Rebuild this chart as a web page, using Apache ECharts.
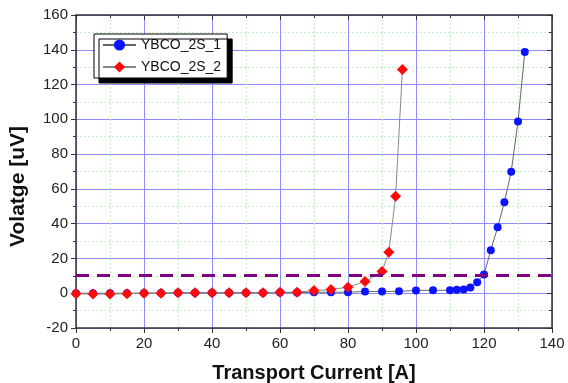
<!DOCTYPE html>
<html>
<head>
<meta charset="utf-8">
<script src="https://cdn.jsdelivr.net/npm/echarts@6/dist/echarts.min.js"></script>
<style>
  html, body { margin: 0; padding: 0; background: #fff; }
  #chart { width: 568px; height: 383px; }
</style>
</head>
<body>
<div id="chart"></div>
<script>
// YBCO_2S_1 (blue circles)
const current1 = [0, 5, 10, 15, 20, 25, 30, 35, 40, 45, 50, 55, 60, 65, 70, 75, 80, 85, 90, 95, 100, 105, 110, 112, 114, 116, 118, 120, 122, 124, 126, 128, 130, 132]
const voltage1 = [0, 0, 0, 0, 0.1, 0.1, 0.2, 0.2, 0.2, 0.3, 0.3, 0.3, 0.4, 0.4, 0.5, 0.6, 0.6, 1.0, 1.0, 1.1, 1.6, 1.7, 1.7, 2.0, 2.1, 3.3, 6.3, 10.7, 24.7, 37.9, 52.3, 69.8, 98.7, 138.7]

// YBCO_2S_2 (red diamonds)
const current2 = [0, 5, 10, 15, 20, 25, 30, 35, 40, 45, 50, 55, 60, 65, 70, 75, 80, 85, 90, 92, 94, 96]
const voltage2 = [-0.3, -0.5, -0.5, -0.3, 0, 0, 0.3, 0.3, 0.3, 0.3, 0.3, 0.3, 0.5, 0.6, 1.5, 2.1, 3.5, 6.7, 12.5, 23.6, 55.7, 128.6]

const criterionVoltage = 10.5

const xTicks = [0, 20, 40, 60, 80, 100, 120, 140]
const yTicks = [-20, 0, 20, 40, 60, 80, 100, 120, 140, 160]

const zip = (xs, ys) => xs.map((x, i) => [x, ys[i]])

const majorLine = { color: '#8c8cff', width: 1 }
const minorLine = { color: '#c4f0c4', width: 1, type: [2, 2] }
const frameColor = '#333'
const fontFamily = 'Liberation Sans, Arial, sans-serif'

// top and right sides of the frame, ticks pointing inward
const frameAxis = extra => Object.assign({
  type: 'value',
  interval: 20,
  axisLine: { show: true, onZero: false, lineStyle: { color: frameColor, width: 1.5 } },
  axisTick: { show: true, inside: true, length: 5, lineStyle: { color: frameColor } },
  minorTick: { show: true, splitNumber: 2, length: 3, lineStyle: { color: frameColor } },
  axisLabel: { show: false },
  splitLine: { show: false },
  minorSplitLine: { show: false }
}, extra)

const chart = echarts.init(document.getElementById('chart'))

chart.setOption({
  animation: false,
  grid: { left: 76, right: 16, top: 15, bottom: 55, outerBoundsMode: 'none' },
  legend: {
    orient: 'vertical',
    left: 94,
    top: 34,
    padding: [4, 6, 4, 8],
    itemGap: 8,
    itemWidth: 33,
    itemHeight: 14,
    backgroundColor: '#fff',
    borderColor: '#000',
    borderWidth: 1,
    shadowColor: '#000',
    shadowBlur: 0.1,
    shadowOffsetX: 5,
    shadowOffsetY: 5,
    textStyle: { fontFamily, fontSize: 14, color: '#111' },
    data: ['YBCO_2S_1', 'YBCO_2S_2']
  },
  xAxis: [
    {
      type: 'value',
      min: 0,
      max: 140,
      interval: 20,
      name: 'Transport Current [A]',
      nameLocation: 'middle',
      nameGap: 35,
      nameTextStyle: { fontFamily, fontSize: 20, fontWeight: 'bold', color: '#111' },
      axisLine: { onZero: false, lineStyle: { color: frameColor, width: 1.5 } },
      axisTick: { inside: false, length: 5, lineStyle: { color: frameColor } },
      minorTick: { show: true, splitNumber: 2, length: 3, lineStyle: { color: frameColor } },
      axisLabel: {
        fontFamily, fontSize: 15, color: '#222', margin: 8,
        formatter: v => (xTicks.includes(v) ? String(v) : '')
      },
      splitLine: { show: true, lineStyle: majorLine },
      minorSplitLine: { show: true, lineStyle: minorLine }
    },
    frameAxis({ position: 'top', min: 0, max: 140 })
  ],
  yAxis: [
    {
      type: 'value',
      min: -20,
      max: 160,
      interval: 20,
      name: 'Volatge [uV]',
      nameLocation: 'middle',
      nameGap: 47,
      nameTextStyle: { fontFamily, fontSize: 21, fontWeight: 'bold', color: '#111', padding: [0, 30, 0, 0] },
      axisLine: { show: true, onZero: false, lineStyle: { color: frameColor, width: 1.5 } },
      axisTick: { show: true, inside: false, length: 5, lineStyle: { color: frameColor } },
      minorTick: { show: true, splitNumber: 2, length: 3, lineStyle: { color: frameColor } },
      axisLabel: {
        fontFamily, fontSize: 15, color: '#222', margin: 8,
        formatter: v => (yTicks.includes(v) ? String(v) : '')
      },
      splitLine: { show: true, lineStyle: majorLine },
      minorSplitLine: { show: true, lineStyle: minorLine }
    },
    frameAxis({ position: 'right', min: -20, max: 160 })
  ],
  series: [
    {
      name: 'YBCO_2S_1',
      type: 'line',
      data: zip(current1, voltage1),
      symbol: 'circle',
      symbolSize: 8,
      itemStyle: { color: '#0a14ff' },
      lineStyle: { color: '#666', width: 1 },
      z: 3,
      markLine: {
        silent: true,
        symbol: 'none',
        label: { show: false },
        lineStyle: { color: '#800080', width: 3, type: [13, 8] },
        data: [{ yAxis: criterionVoltage }]
      }
    },
    {
      name: 'YBCO_2S_2',
      type: 'line',
      data: zip(current2, voltage2),
      symbol: 'diamond',
      symbolSize: 11,
      itemStyle: { color: '#ff0a0a' },
      lineStyle: { color: '#888', width: 1 },
      z: 4
    }
  ]
})
</script>
</body>
</html>
